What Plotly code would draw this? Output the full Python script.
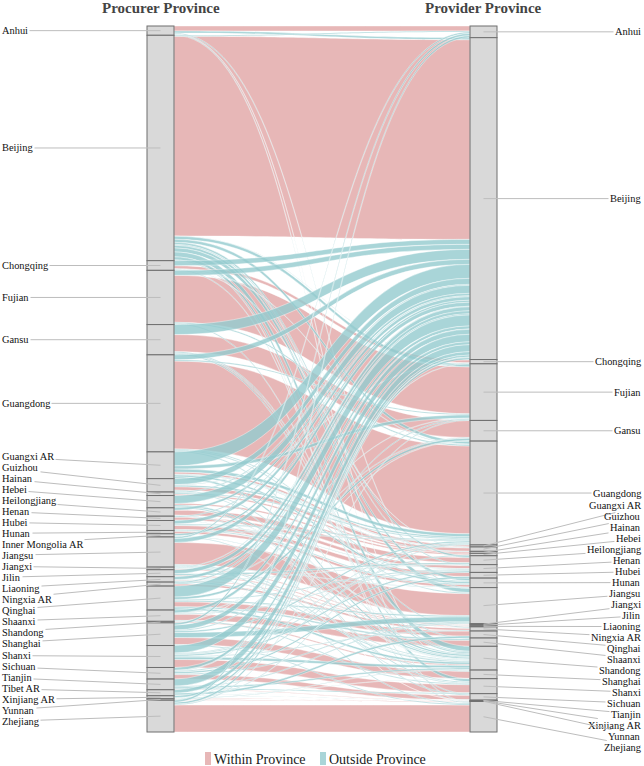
import plotly.graph_objects as go

# ---------------- data ----------------
procurers = ["Anhui", "Beijing", "Chongqing", "Fujian", "Gansu", "Guangdong", "Guangxi AR",
             "Guizhou", "Hainan", "Hebei", "Heilongjiang", "Henan", "Hubei", "Hunan",
             "Inner Mongolia AR", "Jiangsu", "Jiangxi", "Jilin", "Liaoning", "Ningxia AR",
             "Qinghai", "Shaanxi", "Shandong", "Shanghai", "Shanxi", "Sichuan", "Tianjin",
             "Tibet AR", "Xinjiang AR", "Yunnan", "Zhejiang"]

providers = ["Anhui", "Beijing", "Chongqing", "Fujian", "Gansu", "Guangdong", "Guangxi AR",
             "Guizhou", "Hainan", "Hebei", "Heilongjiang", "Henan", "Hubei", "Hunan",
             "Jiangsu", "Jiangxi", "Jilin", "Liaoning", "Ningxia AR", "Qinghai", "Shaanxi",
             "Shandong", "Shanghai", "Shanxi", "Sichuan", "Tianjin", "Xinjiang AR", "Yunnan",
             "Zhejiang"]

# within-province flows (aligned with providers)
within_values = [5, 200, 3, 47, 17, 88, 2, 3.5, 1.5, 1.5, 5, 3, 4, 2.5, 22, 1, 1, 0.8, 2,
                 5, 6, 1.2, 7, 8, 4.5, 0.4, 0.4, 0.4, 27]

# outside-province flows: procurer -> provider
outside_src = (["Anhui"] * 4 + ["Beijing"] * 11 + ["Chongqing"] * 4 + ["Fujian"] * 3 +
               ["Gansu"] * 4 + ["Guangdong"] * 5 + ["Guangxi AR"] * 7 + ["Guizhou"] * 5 +
               ["Hainan"] * 2 + ["Hebei"] * 4 + ["Heilongjiang"] * 4 + ["Henan"] * 2 +
               ["Hubei"] * 4 + ["Hunan"] * 1 + ["Inner Mongolia AR"] * 3 + ["Jiangsu"] * 5 +
               ["Jiangxi"] * 3 + ["Jilin"] * 3 + ["Liaoning"] * 3 + ["Ningxia AR"] * 2 +
               ["Qinghai"] * 6 + ["Shaanxi"] * 4 + ["Shandong"] * 1 + ["Shanghai"] * 6 +
               ["Shanxi"] * 6 + ["Sichuan"] * 5 + ["Tianjin"] * 4 + ["Tibet AR"] * 4 +
               ["Xinjiang AR"] * 2 + ["Yunnan"] * 2 + ["Zhejiang"] * 3)
outside_tgt = ["Beijing", "Jiangsu", "Zhejiang", "Shanghai",
               "Anhui", "Chongqing", "Fujian", "Guangdong", "Hunan", "Jiangsu", "Shandong",
               "Shanxi", "Zhejiang", "Henan", "Heilongjiang",
               "Beijing", "Guangdong", "Guizhou", "Sichuan",
               "Beijing", "Guangdong", "Shandong",
               "Beijing", "Shaanxi", "Shandong", "Ningxia AR",
               "Beijing", "Fujian", "Hunan", "Jiangsu", "Shandong",
               "Beijing", "Fujian", "Guangdong", "Guizhou", "Hainan", "Hunan", "Shandong",
               "Beijing", "Guangdong", "Chongqing", "Shandong", "Sichuan",
               "Beijing", "Guangdong",
               "Beijing", "Shandong", "Tianjin", "Shanxi",
               "Beijing", "Jilin", "Liaoning", "Shandong",
               "Beijing", "Shandong",
               "Beijing", "Guangdong", "Hunan", "Henan",
               "Guangdong",
               "Beijing", "Shanxi", "Ningxia AR",
               "Beijing", "Anhui", "Shanghai", "Zhejiang", "Shandong",
               "Beijing", "Fujian", "Hunan",
               "Beijing", "Heilongjiang", "Shandong",
               "Beijing", "Heilongjiang", "Shandong",
               "Beijing", "Gansu",
               "Beijing", "Gansu", "Shaanxi", "Shandong", "Jiangsu", "Henan",
               "Beijing", "Gansu", "Henan", "Shanxi",
               "Beijing",
               "Beijing", "Jiangsu", "Zhejiang", "Anhui", "Fujian", "Guangdong",
               "Beijing", "Shandong", "Hebei", "Henan", "Ningxia AR", "Guangdong",
               "Beijing", "Chongqing", "Guangdong", "Jiangsu", "Hubei",
               "Beijing", "Shandong", "Jiangsu", "Shanxi",
               "Beijing", "Qinghai", "Shanghai", "Sichuan",
               "Beijing", "Shandong",
               "Beijing", "Guangdong",
               "Beijing", "Anhui", "Fujian"]
outside_val = [2, 1, 0.8, 0.5,
               1, 0.3, 3, 3, 2.7, 4, 5, 3, 0.8, 1, 1.9,
               5, 0.5, 0.4, 0.8,
               5, 1.3, 1,
               10, 1, 1.3, 1,
               5, 1.2, 1, 1, 1,
               14, 3.2, 3, 0.5, 0.5, 1.8, 1.8,
               6, 1.5, 0.5, 1, 0.9,
               1, 1,
               8, 1.5, 0.1, 1.2,
               2.4, 0.2, 0.2, 0.6,
               1, 0.3,
               3.5, 1, 1, 0.5,
               0.8,
               2, 0.8, 0.4,
               4, 1.5, 0.8, 1, 0.9,
               0.6, 0.5, 0.5,
               4, 1.5, 0.5,
               3, 0.5, 1.1,
               1.2, 0.8,
               11, 2.4, 1.3, 2, 1.3, 1,
               3, 0.5, 0.8, 1,
               0.3,
               5, 5, 1, 2.2, 1, 1.5,
               7.5, 2.5, 0.9, 1.5, 0.8, 0.8,
               2.9, 0.5, 1, 1, 1.7,
               7, 1.5, 0.8, 1,
               3.4, 2, 0.3, 0.3,
               2, 0.6,
               0.5, 0.6,
               2, 2, 0.8]

legend_labels = ["Within Province", "Outside Province"]
column_titles = ["Procurer Province", "Provider Province"]

# ---------------- styling / geometry ----------------
W, H = 644, 766
LEFT_PX, RIGHT_PX = 147, 497
TOP_PX, BOT_PX = 26, 732
THICK = 27
PINK = "rgba(226,167,167,0.82)"
TEAL = "rgba(148,202,206,0.80)"
FONT = "Liberation Serif"
LABEL_SIZE = 10.4
LABEL_GAP = 11.0

# ---------------- build links ----------------
nL = len(procurers)
src, tgt, val, col = [], [], [], []
for name, v in zip(providers, within_values):
    src.append(procurers.index(name)); tgt.append(nL + providers.index(name))
    val.append(v); col.append(PINK)
for s, t, v in zip(outside_src, outside_tgt, outside_val):
    src.append(procurers.index(s)); tgt.append(nL + providers.index(t))
    val.append(v); col.append(TEAL)

left_tot = [0.0] * nL
right_tot = [0.0] * len(providers)
for s, t, v in zip(src, tgt, val):
    left_tot[s] += v
    right_tot[t - nL] += v
T = sum(left_tot)

dom_w = RIGHT_PX - LEFT_PX
dom_h = BOT_PX - TOP_PX


def centers(tots):
    out, cum = [], 0.0
    for v in tots:
        out.append((cum + v / 2) / T)
        cum += v
    return out


lc = centers(left_tot)
rc = centers(right_tot)
xfrac = THICK / 2 / dom_w
node_x = [xfrac] * nL + [1 - xfrac] * len(providers)
node_y = lc + rc

fig = go.Figure(go.Sankey(
    domain=dict(x=[LEFT_PX / W, RIGHT_PX / W], y=[1 - BOT_PX / H, 1 - TOP_PX / H]),
    arrangement="fixed",
    node=dict(label=procurers + providers, pad=0, thickness=THICK,
              x=node_x, y=node_y, color="#d9d9d9",
              line=dict(color="#6f6f6f", width=1)),
    link=dict(source=src, target=tgt, value=val, color=col,
              line=dict(color="white", width=0.4)),
    textfont=dict(color="rgba(0,0,0,0)", size=1),
))


def spread(ys, gap, iters=800):
    y = list(ys)
    for _ in range(iters):
        for i in range(len(y) - 1):
            d = y[i + 1] - y[i]
            if d < gap:
                p = (gap - d) / 2
                y[i] -= p
                y[i + 1] += p
    return y


annotations = []
left_head_px = [TOP_PX + c * dom_h for c in lc]
right_head_px = [TOP_PX + c * dom_h for c in rc]
left_lab = spread(left_head_px, LABEL_GAP)
right_lab = spread(right_head_px, LABEL_GAP)
lhx = LEFT_PX + THICK / 2
rhx = RIGHT_PX - THICK / 2
for name, hy, ly in zip(procurers, left_head_px, left_lab):
    annotations.append(dict(
        x=lhx / W, y=1 - hy / H, xref="paper", yref="paper",
        ax=0 - lhx, ay=ly - hy, axref="pixel", ayref="pixel",
        text=name, showarrow=True, arrowhead=0, arrowwidth=1, arrowcolor="#bdbdbd",
        xanchor="left", yanchor="middle", borderpad=1,
        font=dict(family=FONT, size=LABEL_SIZE, color="#111111")))
for name, hy, ly in zip(providers, right_head_px, right_lab):
    annotations.append(dict(
        x=rhx / W, y=1 - hy / H, xref="paper", yref="paper",
        ax=W - 1 - rhx, ay=ly - hy, axref="pixel", ayref="pixel",
        text=name, showarrow=True, arrowhead=0, arrowwidth=1, arrowcolor="#bdbdbd",
        xanchor="right", yanchor="middle", borderpad=1,
        font=dict(family=FONT, size=LABEL_SIZE, color="#111111")))

# column titles
for t, cx in zip(column_titles, [lhx, rhx]):
    annotations.append(dict(x=cx / W, y=1 - 8 / H, xref="paper", yref="paper",
                            text="<b>" + t + "</b>", showarrow=False,
                            xanchor="center", yanchor="middle",
                            font=dict(family=FONT, size=15, color="#444444")))

# legend
shapes = []
leg_x = [205, 320]
for lab, c, lx in zip(legend_labels, [PINK, TEAL], leg_x):
    shapes.append(dict(type="rect", xref="paper", yref="paper",
                       x0=lx / W, x1=(lx + 6) / W, y0=1 - 765 / H, y1=1 - 752 / H,
                       fillcolor=c, line=dict(width=0)))
    annotations.append(dict(x=(lx + 7) / W, y=1 - 759 / H, xref="paper", yref="paper",
                            text=lab, showarrow=False, xanchor="left", yanchor="middle",
                            font=dict(family=FONT, size=14, color="#1a1a1a")))

fig.update_layout(width=W, height=H, margin=dict(l=0, r=0, t=0, b=0),
                  paper_bgcolor="white", plot_bgcolor="white",
                  annotations=annotations, shapes=shapes, showlegend=False)

fig.write_html("out.html")
